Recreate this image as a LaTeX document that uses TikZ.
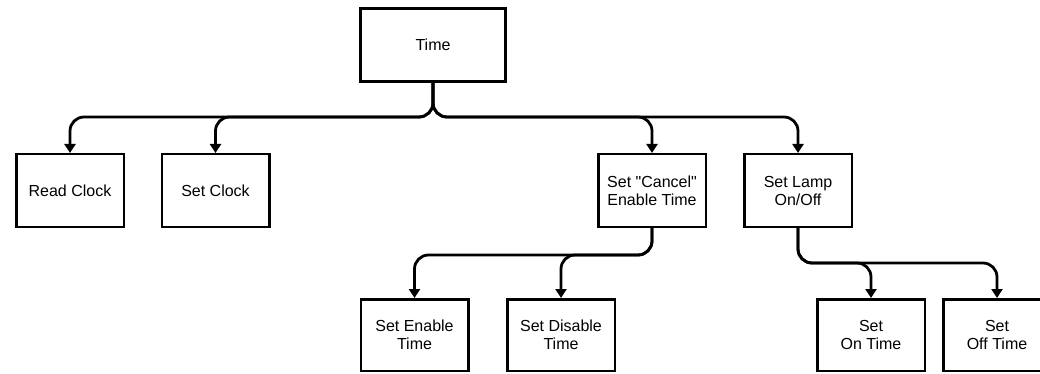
\documentclass[tikz,border=0pt]{standalone}
\usepackage{fontspec}
\setmainfont{Liberation Sans}
\usepackage{tikz}
\usetikzlibrary{arrows.meta}

\tikzset{
    box/.style = {draw, line width = 2.5pt, minimum width = 107.5pt, minimum height = 72.5pt, inner sep = 0pt, align = center, font = \fontsize{16}{18}\selectfont},
    link/.style = {line width = 2.8pt, rounded corners = 14pt, -{Triangle[width = 11pt, length = 9pt]}}
}

\begin{document}
\begin{tikzpicture}[x = 1pt, y = -1pt]
        \clip (0,0) rectangle (1040,374);

        \node (time) [box, line width = 3pt, minimum width = 145pt, minimum height = 73pt] at (433,45) {Time};

        \node (read) [box] at (70,190.5) {Read Clock};
        \node (setclock) [box] at (215.5,190.5) {Set Clock};
        \node (cancel) [box] at (652,190.5) {Set \textquotedbl Cancel\textquotedbl\\Enable Time};
        \node (lamp) [box] at (798,190.5) {Set Lamp\\On/Off};

        \node (enable) [box, minimum height = 71.5pt] at (414.5,335) {Set Enable\\Time};
        \node (disable) [box, minimum height = 71.5pt] at (561,335) {Set Disable\\Time};
        \node (ontime) [box, minimum height = 71.5pt] at (871,335) {Set\\On Time};
        \node (offtime) [box, minimum height = 71.5pt] at (997,335) {Set\\Off Time};

        \coordinate (topbus) at (0,117);
        \coordinate (cancelbus) at (0,255);
        \coordinate (lampbus) at (0,263);

        \foreach \c in {read, setclock, cancel, lamp}
        {
            \draw [link] (time.south) -- (time.south |- topbus) -| (\c.north);
        }
        \foreach \c in {enable, disable}
        {
            \draw [link] (cancel.south) -- (cancel.south |- cancelbus) -| (\c.north);
        }
        \foreach \c in {ontime, offtime}
        {
            \draw [link] (lamp.south) -- (lamp.south |- lampbus) -| (\c.north);
        }
\end{tikzpicture}
\end{document}
